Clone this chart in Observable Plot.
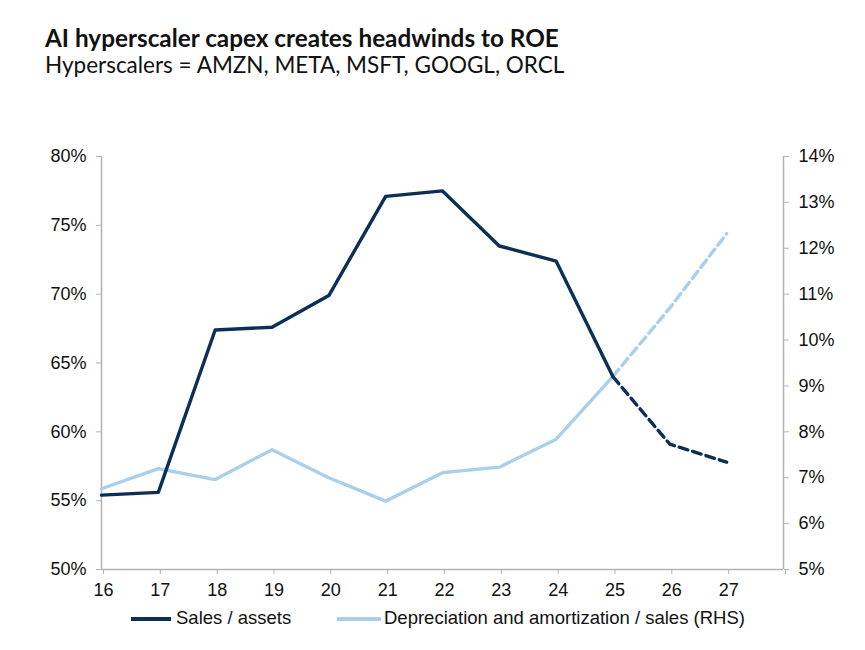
<!DOCTYPE html>
<html>
<head>
<meta charset="utf-8">
<script src="https://cdn.jsdelivr.net/npm/d3@7"></script>
<script src="https://cdn.jsdelivr.net/npm/@observablehq/plot@0.6"></script>
<style>
  body { margin: 0; background: #fff; }
  #wrap { position: relative; width: 865px; height: 650px; overflow: hidden; }
  #title { position: absolute; left: 45px; top: 23px; font-family: Lato, sans-serif; font-weight: 700; font-size: 24.3px; color: #111; white-space: nowrap; }
  #subtitle { position: absolute; left: 45px; top: 51px; font-family: Lato, sans-serif; font-weight: 400; font-size: 22.5px; color: #111; white-space: nowrap; }
  #chart { position: absolute; left: 0; top: 0; }
  .leg { position: absolute; top: 607px; font-family: "Liberation Sans", Arial, sans-serif; font-size: 18.5px; color: #111; white-space: nowrap; }
  .sw { position: absolute; height: 3.5px; top: 617px; }
</style>
</head>
<body>
<div id="wrap">
  <div id="chart"></div>
  <div id="title">AI hyperscaler capex creates headwinds to ROE</div>
  <div id="subtitle">Hyperscalers = AMZN, META, MSFT, GOOGL, ORCL</div>
  <div class="sw" style="left:131px;width:40px;background:#0b2f55"></div>
  <div class="leg" style="left:176px">Sales / assets</div>
  <div class="sw" style="left:337px;width:44px;background:#a9cfeb"></div>
  <div class="leg" style="left:384px">Depreciation and amortization / sales (RHS)</div>
</div>
<script>
const years = [16, 17, 18, 19, 20, 21, 22, 23, 24, 25, 26, 27];
const salesAssets = [55.4, 55.6, 67.4, 67.6, 69.9, 77.1, 77.5, 73.5, 72.4, 64.0, 59.1, 57.8];
const daSales = [6.76, 7.2, 6.96, 7.61, 7.0, 6.49, 7.11, 7.23, 7.84, 9.21, 10.7, 12.32];
const lastActual = 25;
const leftTicks = [50, 55, 60, 65, 70, 75, 80];
const rightTicks = [5, 6, 7, 8, 9, 10, 11, 12, 13, 14];
const xTicks = [16, 17, 18, 19, 20, 21, 22, 23, 24, 25, 26, 27];

// map right-axis (5%..14%) onto left scale (50%..80%)
const toLeft = v => 50 + (v - 5) * 30 / 9;
const fromLeft = y => (y - 50) * 9 / 30 + 5;

const rows = years.map((x, i) => ({x, sa: salesAssets[i], da: toLeft(daSales[i])}));
const solid = rows.filter(d => d.x <= lastActual);
const dashed = rows.filter(d => d.x >= lastActual);

const dark = "#0b2f55";
const light = "#a9cfeb";
const grey = "#b3b3b3";

const chart = Plot.plot({
  width: 865,
  height: 650,
  marginTop: 156,
  marginBottom: 81,
  marginLeft: 101,
  marginRight: 82,
  style: {fontFamily: "'Liberation Sans', Arial, sans-serif", fontSize: "18px", color: "#111", background: "white"},
  x: {domain: [16, 28], axis: null},
  y: {domain: [50, 80], axis: null},
  marks: [
    Plot.ruleX([16], {stroke: grey, strokeWidth: 1.5}),
    Plot.ruleX([28], {stroke: grey, strokeWidth: 1.5}),
    Plot.ruleY([50], {stroke: grey, strokeWidth: 1.5}),
    Plot.axisX({ticks: [...xTicks, 28], tickFormat: d => d === 28 ? "" : String(d), tickSize: 5, tickPadding: 9, stroke: grey, label: null, fontSize: 18, dx: 2}),
    Plot.axisY({ticks: leftTicks, tickFormat: d => d + "%", tickSize: 5, tickPadding: 10, stroke: grey, label: null, anchor: "left", fontSize: 18}),
    Plot.axisY({ticks: rightTicks.map(toLeft), tickFormat: d => Math.round(fromLeft(d)) + "%", tickSize: 5, tickPadding: 10, stroke: grey, label: null, anchor: "right", fontSize: 18}),
    Plot.line(solid, {x: "x", y: "da", stroke: light, strokeWidth: 3.4}),
    Plot.line(dashed, {x: "x", y: "da", stroke: light, strokeWidth: 3.4, strokeDasharray: "9,5"}),
    Plot.line(solid, {x: "x", y: "sa", stroke: dark, strokeWidth: 3.4}),
    Plot.line(dashed, {x: "x", y: "sa", stroke: dark, strokeWidth: 3.4, strokeDasharray: "9,5"})
  ]
});
document.getElementById("chart").appendChild(chart);
</script>
</body>
</html>
